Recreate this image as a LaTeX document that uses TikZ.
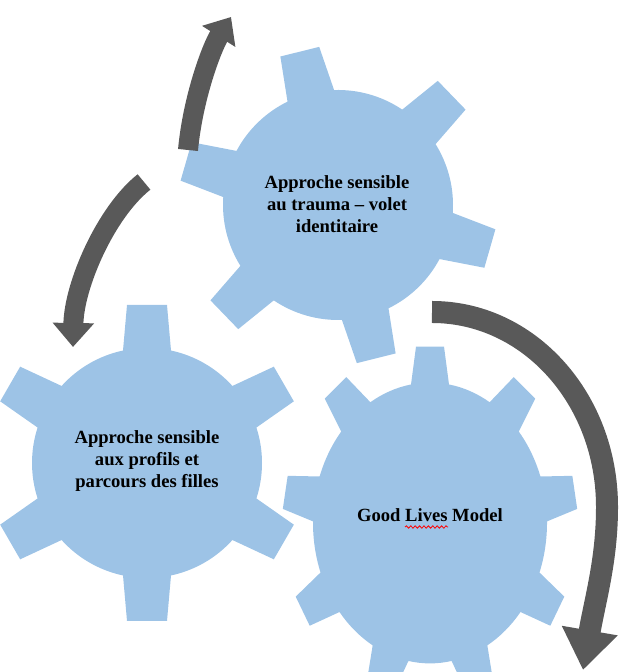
\documentclass[tikz,border=0pt]{standalone}
\usepackage{fontspec}
\setmainfont{Liberation Serif}
\usepackage{tikz}
\usetikzlibrary{arrows.meta, decorations.pathmorphing}

\definecolor{gearblue}{RGB}{157,195,230}
\definecolor{arrowgray}{RGB}{89,89,89}

\begin{document}
\begin{tikzpicture}[x=0.5pt, y=0.5pt]
        % Setup the styles for the gears, the labels and the arrows
        \tikzset{gear fill/.style={fill=gearblue},
                 label style/.style={font=\fontsize{9.3}{10.85}\selectfont\bfseries,
                                     align=center},
                 turn arrow/.style={draw=arrowgray, line width=10pt},
                 % #1 teeth, #2 first tooth, #3 body radius, #4 tip radius,
                 % #5 half width at the body, #6 half width at the tip
                 pics/gear/.style n args={6}{code={
                     \pgfmathsetmacro\gearStep{360/#1}
                     \pgfmathsetmacro\gearBase{asin(#5/#3)}
                     \pgfmathsetmacro\gearTip{atan(#6/#4)}
                     \pgfmathsetmacro\gearOut{#4/cos(\gearTip)}
                     \fill[gear fill] ({#2-\gearBase}:#3)
                         \foreach \k in {1,...,#1}{
                             -- ({#2+(\k-1)*\gearStep-\gearTip}:\gearOut)
                             -- ({#2+(\k-1)*\gearStep+\gearTip}:\gearOut)
                             -- ({#2+(\k-1)*\gearStep+\gearBase}:#3)
                             arc[start angle={#2+(\k-1)*\gearStep+\gearBase},
                                 end angle={#2+\k*\gearStep-\gearBase}, radius=#3]
                         } -- cycle;
                 }}}

        \useasboundingbox (0,0) rectangle (622,672);
        \clip (0,0) rectangle (622,672);

        % Draw the gears
        \pic at (338,467) {gear={6}{104}{115}{158}{24}{20}};
        \pic at (147,209) {gear={6}{90}{115}{158}{24}{20}};
        \pic[yscale=1.2] at (430,149) {gear={9}{90}{117}{147}{19}{14}};

        % Labels on the gears
        \node[label style] at (337,468) (trauma)
            {Approche sensible\\au trauma -- volet\\identitaire};
        \node[label style] at (147,211) (profils)
            {Approche sensible\\aux profils et\\parcours des filles};
        \node[label style, anchor=base] at (430,150) (glm) {Good Lives Model};
        \draw[red, line width=0.4pt, decorate,
              decoration={snake, amplitude=0.6pt, segment length=2.2pt}]
              (405,145) -- (448,145);

        % Ends of the arrows
        \coordinate (upA) at (188,522);
        \coordinate (upB) at (231,655);
        \coordinate (downA) at (144,490);
        \coordinate (downB) at (73,325);
        \coordinate (bigA) at (432,360);
        \coordinate (bigM) at (607,165);
        \coordinate (bigB) at (583,2);

        % Connect the gears with arrows
        \draw[turn arrow, -{Triangle[length=11.5pt, width=19pt]}]
              (upA) .. controls (193,575) and (212,625) .. (upB);
        \draw[turn arrow, -{Triangle[length=12pt, width=20pt]}]
              (downA) .. controls (106,460) and (74,387) .. (downB);
        \draw[turn arrow, line width=11pt, -{Triangle[length=20pt, width=27pt]}]
              (bigA) .. controls (529,360) and (607,273) .. (bigM)
                     .. controls (607,112) and (595,72) .. (bigB);
\end{tikzpicture}
\end{document}
